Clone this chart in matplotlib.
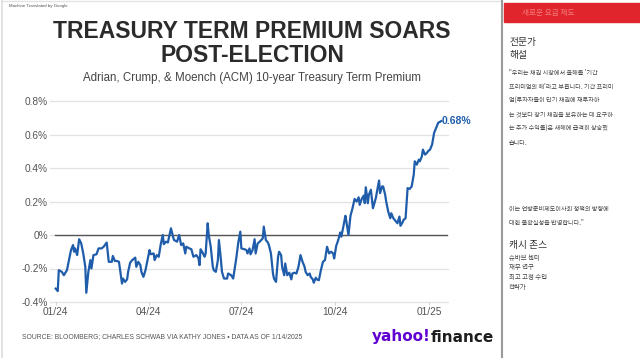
import matplotlib
matplotlib.use("Agg")
import matplotlib.pyplot as plt
from matplotlib.lines import Line2D
from matplotlib.patches import Rectangle

# ACM 10-year term premium (%); days counted from 2024-01-01
DAYS = [
    0, 2, 3, 6, 8, 11, 13, 15, 17, 18, 19, 21, 23, 25, 27, 29, 30, 32, 34, 35,
    37, 40, 42, 45, 47, 50, 52, 55, 56, 58, 60, 62, 65, 66, 68, 70, 71, 73, 75, 78,
    79, 81, 83, 84, 86, 88, 90, 92, 93, 96, 97, 99, 101, 103, 105, 106, 108, 110, 111, 113,
    115, 116, 119, 121, 123, 125, 127, 128, 131, 133, 135, 138, 140, 141, 142, 144, 146, 147, 149, 150,
    152, 154, 155, 157, 159, 160, 162, 163, 165, 168, 169, 172, 174, 176, 177, 179, 181, 182, 185, 187,
    188, 190, 191, 193, 195, 196, 198, 200, 203, 204, 206, 208, 209, 211, 213, 214, 216, 218, 219, 221,
    222, 224, 225, 227, 229, 231, 232, 234, 236, 238, 240, 242, 244, 245, 247, 249, 250, 252, 253, 255,
    256, 258, 260, 262, 264, 266, 268, 270, 272, 273, 275, 277, 279, 280, 282, 284, 285, 287, 289, 291,
    293, 295, 297, 298, 300, 302, 303, 304, 306, 307, 309, 311, 312, 314, 315, 317, 318, 320, 321, 323,
    324, 326, 328, 329, 331, 333, 335, 337, 338, 340, 341, 343, 345, 347, 349, 351, 352, 354, 356, 357,
    359, 360, 362, 364, 365, 367, 369, 371, 373, 375, 378,
]
TERM_PREMIUM = [
    -0.32, -0.335, -0.21, -0.22, -0.24, -0.21, -0.15, -0.09, -0.06, -0.10, -0.08, -0.12, -0.025, -0.05, -0.11, -0.19, -0.345, -0.22, -0.15, -0.20,
    -0.12, -0.115, -0.08, -0.08, -0.07, -0.045, -0.16, -0.16, -0.125, -0.155, -0.155, -0.16, -0.29, -0.26, -0.28, -0.265, -0.22, -0.165, -0.15, -0.135,
    -0.19, -0.16, -0.18, -0.22, -0.25, -0.21, -0.15, -0.09, -0.115, -0.11, -0.15, -0.12, -0.13, -0.055, 0.0, -0.055, -0.04, -0.045, -0.015, 0.04,
    -0.01, -0.03, -0.04, 0.0, -0.06, -0.05, -0.11, -0.07, -0.08, -0.085, -0.13, -0.12, -0.14, -0.18, -0.085, -0.105, -0.13, -0.11, 0.07, 0.0,
    -0.07, -0.19, -0.21, -0.22, -0.15, -0.03, -0.15, -0.22, -0.26, -0.26, -0.23, -0.24, -0.26, -0.18, -0.14, -0.045, 0.02, -0.08, -0.085, -0.09,
    -0.11, -0.08, -0.115, -0.09, -0.025, -0.11, -0.05, -0.04, -0.02, 0.05, -0.03, -0.045, -0.06, -0.11, -0.23, -0.26, -0.28, -0.13, -0.10, -0.12,
    -0.19, -0.24, -0.17, -0.24, -0.225, -0.265, -0.23, -0.225, -0.23, -0.19, -0.12, -0.16, -0.19, -0.22, -0.24, -0.23, -0.25, -0.265, -0.285, -0.255,
    -0.265, -0.27, -0.21, -0.16, -0.15, -0.07, -0.11, -0.10, -0.11, -0.14, -0.065, -0.03, 0.015, -0.01, 0.05, 0.115, 0.08, 0.0, 0.115, 0.16,
    0.215, 0.20, 0.225, 0.18, 0.215, 0.235, 0.19, 0.285, 0.19, 0.24, 0.27, 0.16, 0.18, 0.225, 0.26, 0.325, 0.25, 0.29, 0.29, 0.24,
    0.20, 0.14, 0.10, 0.13, 0.10, 0.085, 0.07, 0.11, 0.055, 0.075, 0.09, 0.10, 0.28, 0.275, 0.29, 0.36, 0.44, 0.42, 0.45, 0.44,
    0.47, 0.51, 0.48, 0.49, 0.50, 0.51, 0.54, 0.61, 0.64, 0.67, 0.68,
]

TICK_DAYS = [0, 91, 182, 274, 366]
TICK_LABELS = ["01/24", "04/24", "07/24", "10/24", "01/25"]
Y_TICKS = [-0.4, -0.2, 0.0, 0.2, 0.4, 0.6, 0.8]
Y_LABELS = ["-0.4%", "-0.2%", "0%", "0.2%", "0.4%", "0.6%", "0.8%"]

TITLE_1 = "TREASURY TERM PREMIUM SOARS"
TITLE_2 = "POST-ELECTION"
SUBTITLE = "Adrian, Crump, & Moench (ACM) 10-year Treasury Term Premium"
SOURCE = "SOURCE: BLOOMBERG; CHARLES SCHWAB VIA KATHY JONES \u2022 DATA AS OF 1/14/2025"

SIDE_HEADER = "새로운 요금 제도"
SIDE_TITLE = ["전문가", "해설"]
QUOTE_1 = [
    "\"우리는 채권 시장에서 올해를 '기간",
    "프리미엄의 해'라고 부릅니다. 기간 프리미",
    "엄(투자자들이 단기 채권에 재투자하",
    "는 것보다 장기 채권을 보유하는 데 요구하",
    "는 추가 수익률)은 새해에 급격히 상승했",
    "습니다.",
]
QUOTE_2 = ["이는 연방준비제도이사회 정책의 방향에", "대한 불확실성을 반영합니다.\""]
AUTHOR = "캐시 존스"
AUTHOR_ROLE = ["슈바브 센터", "재무 연구", "최고 고정 수입", "전략가"]

W, H = 640, 358
LINE_BLUE = "#1f5dab"
KR = ["Noto Sans CJK KR", "DejaVu Sans"]
plt.rcParams["font.family"] = ["Liberation Sans", "DejaVu Sans"]


def fx(x):
    return x / W


def fy(y):
    return 1 - y / H


fig = plt.figure(figsize=(W / 100, H / 100), dpi=100)
fig.patch.set_facecolor("white")

# panel frame + divider
fig.add_artist(Line2D([fx(2), fx(2)], [0, 1], color="#dddddd", lw=1.2))
fig.add_artist(Line2D([fx(2), fx(502)], [fy(1), fy(1)], color="#e4e4e4", lw=1.0))
fig.add_artist(Line2D([fx(502), fx(502)], [0, 1], color="#9a9a9a", lw=1.5))

fig.text(fx(9), fy(6), "Machine Translated by Google", fontsize=3.2, color="#555555", va="center")

fig.text(fx(252), fy(32), TITLE_1, fontsize=16.5, fontweight="bold", color="#2b2b2b",
         ha="center", va="center")
fig.text(fx(252), fy(55), TITLE_2, fontsize=16.5, fontweight="bold", color="#2b2b2b",
         ha="center", va="center")
fig.text(fx(252), fy(78), SUBTITLE, fontsize=8.3, color="#444444", ha="center", va="center")

ax = fig.add_axes([fx(50), fy(302), (448 - 50) / W, (302 - 101) / H])
ax.set_xlim(-5.6, 384.6)
ax.set_ylim(-0.4, 0.8)
for v in Y_TICKS:
    ax.axhline(v, color="#e2e2e2", lw=0.9, clip_on=False, zorder=0)
ax.axhline(0, xmin=0.013, color="#555555", lw=1.0, zorder=1)

ax.plot(DAYS, TERM_PREMIUM, color=LINE_BLUE, lw=1.6, solid_joinstyle="round", zorder=3)
ax.annotate(f"{TERM_PREMIUM[-1]:.2f}%", (DAYS[-1], TERM_PREMIUM[-1]), xytext=(0.5, 0),
            textcoords="offset points", ha="left", va="center", fontsize=7.5,
            fontweight="bold", color=LINE_BLUE)

ax.set_yticks(Y_TICKS)
ax.set_yticklabels(Y_LABELS)
ax.set_xticks(TICK_DAYS)
ax.set_xticklabels(TICK_LABELS)
ax.tick_params(axis="y", length=0, pad=1.5, labelsize=7.3, labelcolor="#555555")
ax.tick_params(axis="x", length=2.5, width=0.6, color="#cccccc", pad=1.0,
               labelsize=7.3, labelcolor="#555555")
for s in ax.spines.values():
    s.set_visible(False)

fig.text(fx(22), fy(337), SOURCE, fontsize=4.9, color="#555555", va="center")
fig.text(fx(372), fy(337), "yahoo!", fontsize=11, fontweight="bold", color="#6001d2",
         va="center", family="DejaVu Sans")
fig.text(fx(431), fy(337), "finance", fontsize=11, fontweight="bold", color="#1d1d1d",
         va="center", family="DejaVu Sans")

# right-hand side panel
fig.add_artist(Rectangle((fx(504), fy(22)), (W - 504) / W, 19 / H,
                         transform=fig.transFigure, color="#e0262c"))
fig.text(fx(522), fy(12.5), SIDE_HEADER, fontsize=5.5, color="#f27a7a", va="center", family=KR)

for i, t in enumerate(SIDE_TITLE):
    fig.text(fx(509), fy(42 + 13 * i), t, fontsize=7, color="#333333", va="center", family=KR)
for i, t in enumerate(QUOTE_1):
    fig.text(fx(509), fy(73 + 14 * i), t, fontsize=4.4, color="#444444", va="center", family=KR)
for i, t in enumerate(QUOTE_2):
    fig.text(fx(509), fy(209 + 14 * i), t, fontsize=4.4, color="#444444", va="center", family=KR)
fig.text(fx(509), fy(245), AUTHOR, fontsize=7, color="#333333", va="center", family=KR)
for i, t in enumerate(AUTHOR_ROLE):
    fig.text(fx(509), fy(258 + 9.5 * i), t, fontsize=4.6, color="#444444", va="center", family=KR)

fig.savefig("out.png", dpi=100)
